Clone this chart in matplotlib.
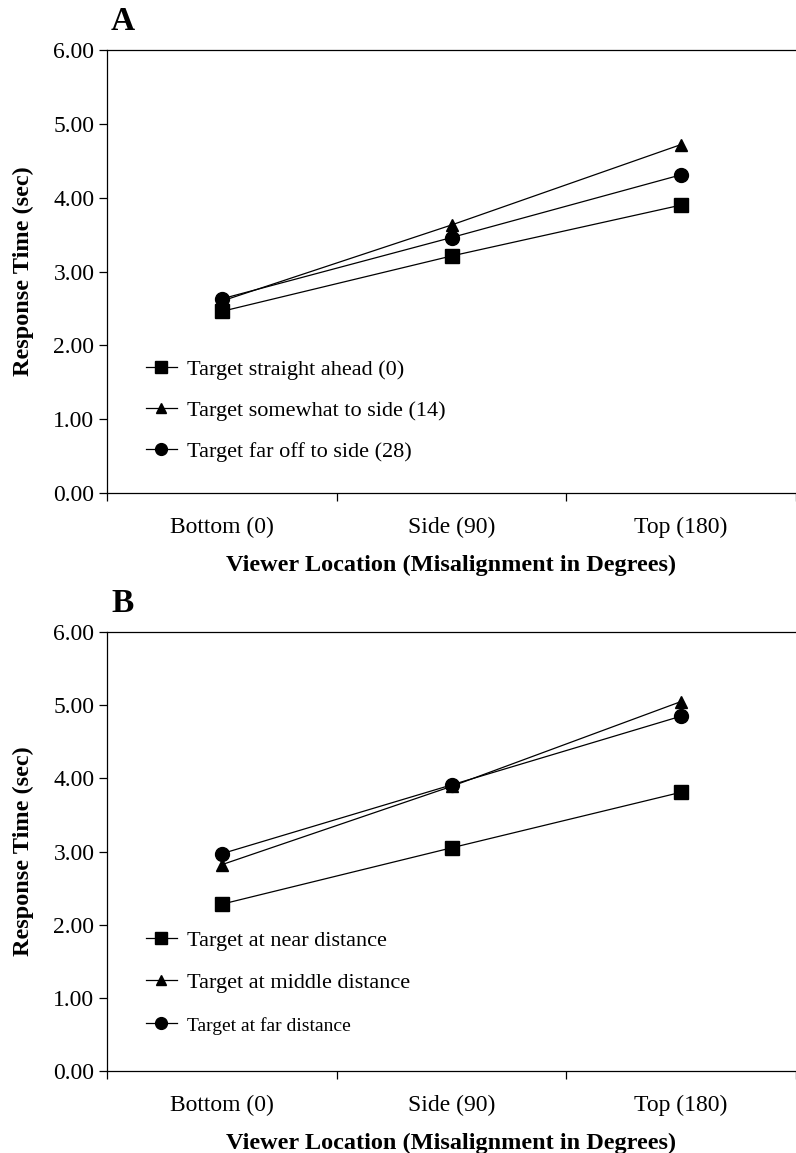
import matplotlib.pyplot as plt

plt.rcParams['font.family'] = ['Liberation Serif', 'DejaVu Serif']

locations = ["Bottom (0)", "Side (90)", "Top (180)"]

# panel A - target direction
a_straight = [2.46, 3.21, 3.90]
a_somewhat = [2.60, 3.63, 4.72]
a_far_side = [2.63, 3.46, 4.31]
a_labels = ["Target straight ahead (0)", "Target somewhat to side (14)", "Target far off to side (28)"]

# panel B - target distance
b_near = [2.28, 3.05, 3.81]
b_middle = [2.82, 3.89, 5.05]
b_far = [2.97, 3.91, 4.85]
b_labels = ["Target at near distance", "Target at middle distance", "Target at far distance"]

yticks = [0, 1, 2, 3, 4, 5, 6]

fig = plt.figure(figsize=(7.96, 11.53), dpi=100)
W, H = 796, 1153


def panel(top, bottom, series, labels, letter, leg_y, spacing, small_last):
    ax = fig.add_axes([107 / W, 1 - bottom / H, (W - 107) / W, (bottom - top) / H])
    x = range(len(locations))
    for vals, m, ms in zip(series, ["s", "^", "o"], [9.5, 9, 10]):
        ax.plot(x, vals, color="black", lw=0.9, marker=m, ms=ms, mec="black", mfc="black")
    ax.set_ylim(0, 6)
    ax.set_xlim(-0.5, -0.5 + (W - 107) / 235.5)
    ax.set_yticks(yticks)
    ax.set_yticklabels([f"{v:.2f}" for v in yticks], fontsize=17)
    ax.set_xticks(list(x))
    ax.set_xticklabels(locations, fontsize=17)
    ax.set_xticks([-0.5, 0.5, 1.5, 2.5], minor=True)
    ax.tick_params(axis="x", which="major", length=0, pad=17)
    ax.tick_params(axis="x", which="minor", length=6, width=0.9, direction="out")
    ax.tick_params(axis="y", length=6, width=0.9, direction="out", pad=3)
    ax.spines["right"].set_visible(False)
    for s in ["left", "bottom", "top"]:
        ax.spines[s].set_linewidth(0.9)
    ax.set_xlabel("Viewer Location (Misalignment in Degrees)", fontsize=17.5,
                  fontweight="bold", labelpad=12)
    ax.set_ylabel("Response Time (sec)", fontsize=17.5, fontweight="bold", labelpad=14)
    fig.text(123 / W, 1 - (top - 29) / H, letter, fontsize=24, fontweight="bold",
             va="center", ha="center")
    leg = ax.legend(labels, loc="upper left", bbox_to_anchor=(0.027, leg_y), frameon=False,
                    fontsize=16, handlelength=1.4, handletextpad=0.45, labelspacing=spacing,
                    markerscale=0.85)
    if small_last:
        leg.get_texts()[2].set_fontsize(14)
    return ax


panel(50, 493, [a_straight, a_somewhat, a_far_side], a_labels, "A", 0.347, 0.92, False)
panel(632, 1071, [b_near, b_middle, b_far], b_labels, "B", 0.366, 0.98, True)

fig.savefig("out.png", dpi=100)
